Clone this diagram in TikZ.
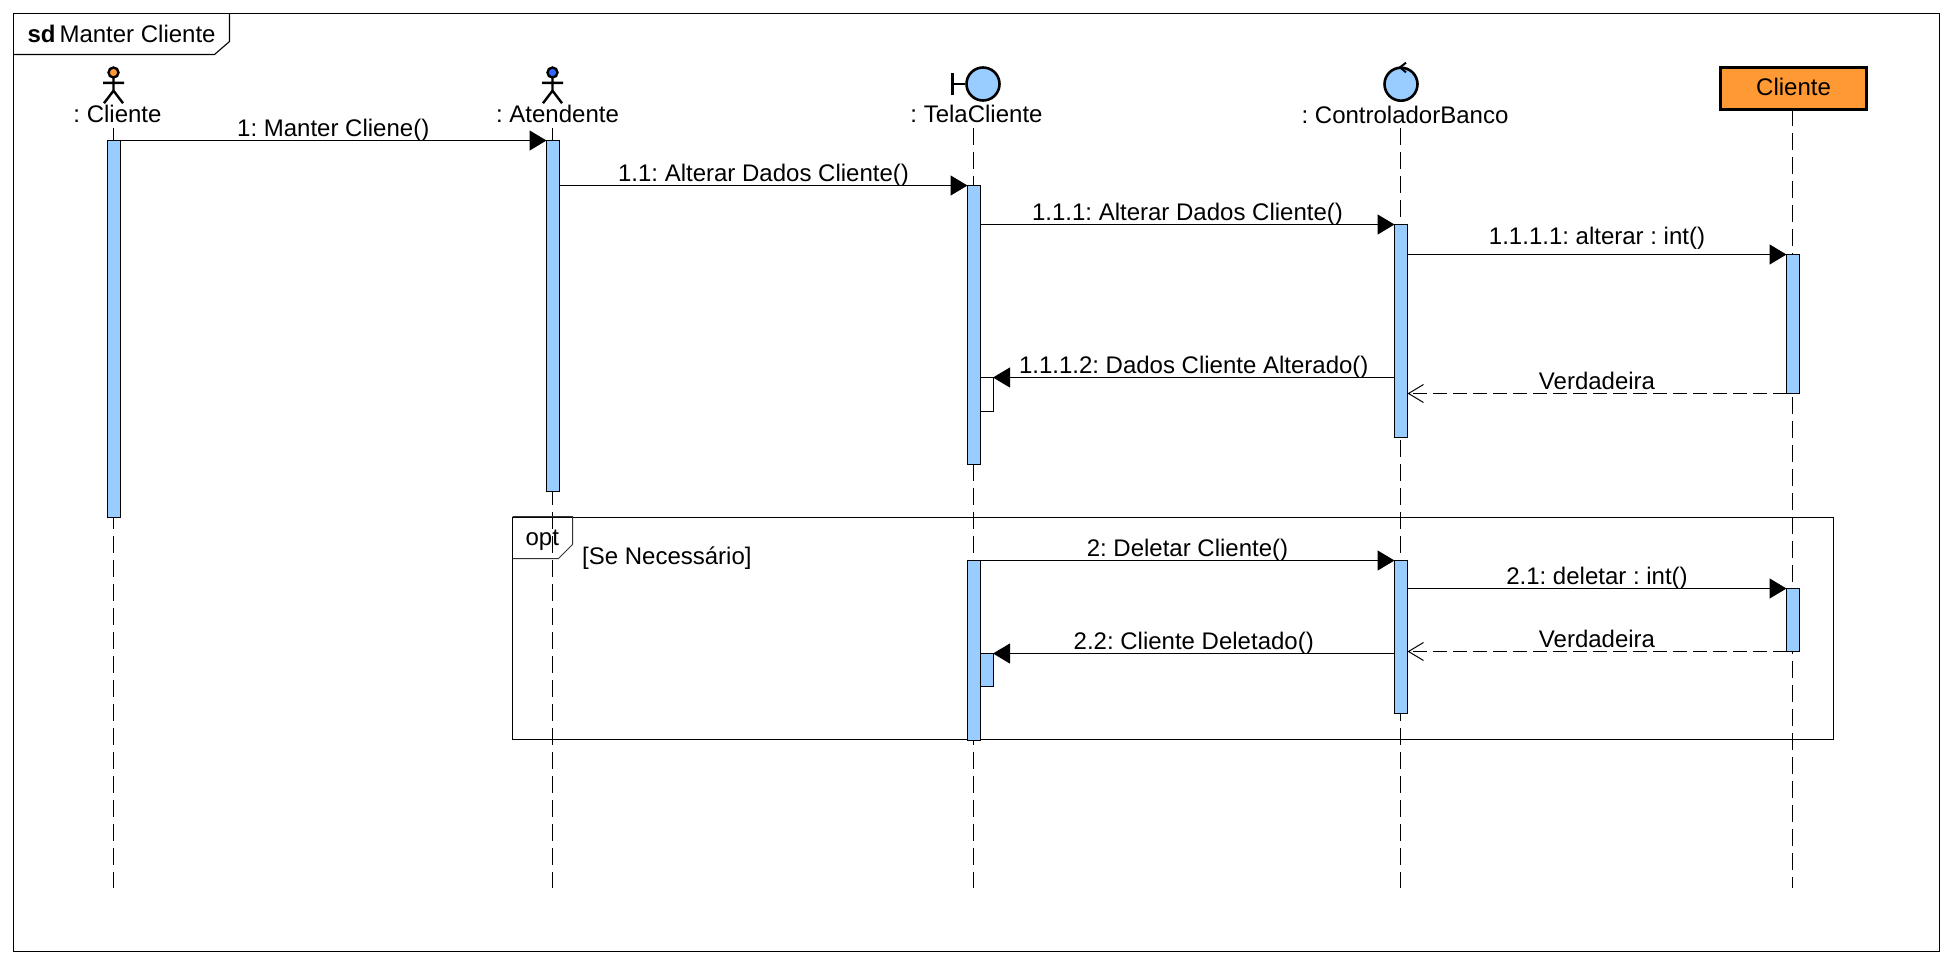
\documentclass[tikz,border=0pt]{standalone}
\usepackage{fontspec}
\setmainfont{Liberation Sans}
\usetikzlibrary{arrows.meta}
\definecolor{actblue}{HTML}{99CCFF}
\definecolor{clientorange}{HTML}{FF9933}
\definecolor{actorblue}{HTML}{3366FF}
\frenchspacing
\tikzset{
seqtext/.style={
  inner sep=0pt,
  font=\fontsize{24}{28}\selectfont
},
headlabel/.style={
  seqtext,
  anchor=base
},
msglabel/.style={
  seqtext,
  midway,
  anchor=base,
  yshift=4pt
},
actbar/.style={
  draw=black,
  line width=1pt,
  fill=actblue,
  anchor=north,
  inner sep=0pt,
  outer sep=0pt,
  minimum width=13pt
},
selfbar/.style={
  actbar,
  anchor=north west
},
lifeline/.style={
  draw=black,
  line width=1.1pt,
  dash pattern=on 17pt off 7pt
},
msgarrow/.style={
  -{Triangle[length=17pt,width=20pt]},
  line width=1.2pt,
  draw=black
},
retarrow/.style={
  -{Straight Barb[length=15pt,width=18pt,line width=1pt]},
  line width=1.2pt,
  draw=black,
  dash pattern=on 14pt off 6pt
},
iconcircle/.style={
  draw=black,
  line width=2.6pt,
  fill=actblue,
  circle,
  inner sep=0pt,
  minimum size=33pt
},
actorfig/.pic={
  \path[draw=black,line width=2.4pt,pic actions] (0,-1.2) circle (5pt);
  \draw[black,line width=2.4pt] (0,4) -- (0,17) (-10.5,9.2) -- (10.5,9.2) (-9.5,29.5) -- (0,17) -- (9.5,29.5);
}
}

\begin{document}
\begin{tikzpicture}[x=1pt,y=-1pt]
\useasboundingbox (0,0) rectangle (1953,964);

% outer frame
\draw[line width=1.1pt] (13.5,13.5) rectangle (1939.5,951.5);
\draw[line width=1.1pt] (13.5,54.5) -- (214.5,54.5) -- (229.5,41.5) -- (229.5,13.5);
\node[headlabel,anchor=base west] (frametitle) at (27.3,42.3) {\textbf{sd}\hspace{4pt}Manter Cliente};

% lifeline heads
\pic[fill=clientorange] at (113.5,73.7) {actorfig};
\pic[fill=actorblue] at (552.5,73.7) {actorfig};
\node[iconcircle] (telaicon) at (983,84) {};
\draw[line width=2.6pt] (telaicon.west) -- (952.3,84) (952.3,73) -- (952.3,95);
\node[iconcircle] (ctrlicon) at (1401,84.2) {};
\draw[line width=2pt] (1406,62.7) -- (1400,67.3) -- (1406,72.3);
\node[draw=black,line width=3pt,fill=clientorange,inner sep=0pt,outer sep=0pt,minimum width=146pt,minimum height=42pt,seqtext,text depth=2pt] (clientbox) at (1793.5,88) {Cliente};

\node[headlabel] (cliente) at (117.5,122.7) {: Cliente};
\node[headlabel] (atendente) at (557.5,122.7) {: Atendente};
\node[headlabel] (tela) at (976.5,122.7) {: TelaCliente};
\node[headlabel] (ctrl) at (1405,123.3) {: ControladorBanco};

% lifelines
\coordinate (top1) at (113.5,128);
\coordinate (bot1) at (113.5,888);
\coordinate (top2) at (552.5,128);
\coordinate (bot2) at (552.5,888);
\coordinate (top3) at (973.5,128);
\coordinate (bot3) at (973.5,888);
\coordinate (top4) at (1400.5,128);
\coordinate (bot4) at (1400.5,888);
\coordinate (bot5) at (1792.5,888);
\draw[lifeline] (top1) -- (bot1);
\draw[lifeline] (top2) -- (bot2);
\draw[lifeline] (top3) -- (bot3);
\draw[lifeline] (top4) -- (bot4);
\draw[lifeline] (clientbox.south -| bot5) -- (bot5);

% activations
\node[actbar,minimum height=377pt] (act1) at (113.5,140.5) {};
\node[actbar,minimum height=351pt] (act2) at (553,140.5) {};
\node[actbar,minimum height=279pt] (act3) at (974,185.5) {};
\node[actbar,minimum height=213pt] (act4) at (1401,224.5) {};
\node[actbar,minimum height=139pt] (act5) at (1793,254.5) {};
\node[selfbar,fill=white,minimum height=34pt,minimum width=12.5pt] (self1) at (980.5,377.5) {};

% opt fragment
\draw[line width=1.1pt] (512.5,517.5) rectangle (1833.5,739.5);
\draw[line width=1pt,draw=black!80] (512.5,516.5) -- (572.5,516.5) -- (572.5,544.5) -- (558.5,558.5) -- (512.5,558.5);
\node[headlabel] (optlabel) at (542.3,545) {opt};
\node[headlabel,anchor=base west] (optguard) at (582,564) {[Se Necessário]};

\node[actbar,minimum height=180pt] (act6) at (974,560.5) {};
\node[actbar,minimum height=153pt] (act7) at (1401,560.5) {};
\node[actbar,minimum height=63pt] (act8) at (1793,588.5) {};
\node[selfbar,minimum height=33pt,minimum width=12.5pt] (self2) at (980.5,653.5) {};

% messages
\draw[msgarrow] (act1.north east) -- node[msglabel] {1: Manter Cliene()} (act2.north west);
\draw[msgarrow] (act2.east |- act3.north) -- node[msglabel] {1.1: Alterar Dados Cliente()} (act3.north west);
\draw[msgarrow] (act3.east |- act4.north) -- node[msglabel] {1.1.1: Alterar Dados Cliente()} (act4.north west);
\draw[msgarrow] (act4.east |- act5.north) -- node[msglabel,yshift=6pt] {1.1.1.1: alterar : int()} (act5.north west);
\draw[msgarrow] (act4.west |- self1.north) -- node[msglabel] {1.1.1.2: Dados Cliente Alterado()} (self1.north east);
\draw[retarrow] (act5.south west) -- node[msglabel] {Verdadeira} (act4.east |- act5.south);
\draw[msgarrow] (act6.north east) -- node[msglabel] {2: Deletar Cliente()} (act7.north west);
\draw[msgarrow] (act7.east |- act8.north) -- node[msglabel] {2.1: deletar : int()} (act8.north west);
\draw[retarrow] (act8.south west) -- node[msglabel] {Verdadeira} (act7.east |- act8.south);
\draw[msgarrow] (act7.west |- self2.north) -- node[msglabel] {2.2: Cliente Deletado()} (self2.north east);

\end{tikzpicture}
\end{document}
